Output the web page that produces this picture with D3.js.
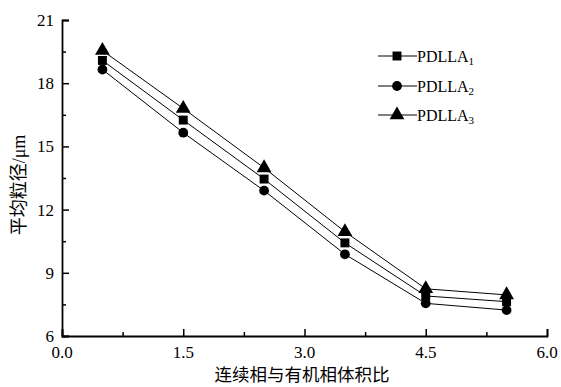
<!DOCTYPE html>
<html>
<head>
<meta charset="utf-8">
<script src="https://cdn.jsdelivr.net/npm/d3@7"></script>
<style>
  body { margin: 0; background: #fff; }
  svg { display: block; }
</style>
</head>
<body>
<svg id="chart" width="561" height="387"></svg>
<script>
// Données
const ratios = [0.5, 1.5, 2.5, 3.5, 4.5, 5.5];
const pdlla1 = [19.08, 16.25, 13.45, 10.42, 7.9, 7.63];
const pdlla2 = [18.65, 15.65, 12.9, 9.88, 7.55, 7.23];
const pdlla3 = [19.55, 16.8, 13.98, 10.95, 8.24, 7.95];
const seriesNames = ['PDLLA', 'PDLLA', 'PDLLA'];
const seriesSubs = ['1', '2', '3'];
const xTicks = [0, 1.5, 3.0, 4.5, 6.0];
const yTicks = [6, 9, 12, 15, 18, 21];

const svg = d3.select('#chart');
const mLeft = 62, mRight = 547, mTop = 20, mBottom = 336;

const x = d3.scaleLinear().domain([0, 6]).range([mLeft, mRight]);
const y = d3.scaleLinear().domain([6, 21]).range([mBottom, mTop]);

const serif = "'Liberation Serif'";
const cjk = "'Noto Sans CJK SC'";

// Axe X
const gx = svg.append('g').attr('transform', `translate(0,${mBottom})`);
gx.call(d3.axisBottom(x).tickValues(d3.range(0, 6.01, 0.75)).tickSize(-7).tickFormat(''));
gx.selectAll('.tick line').attr('y2', (d, i) => (i % 2 ? -4 : -7));
gx.select('.domain').attr('stroke-width', 1.8);
gx.selectAll('.tick line').attr('stroke-width', 1.5);

// Axe Y
const gy = svg.append('g').attr('transform', `translate(${mLeft},0)`);
gy.call(d3.axisLeft(y).tickValues(d3.range(6, 21.01, 1.5)).tickSize(-7).tickFormat(''));
gy.selectAll('.tick line').attr('x2', (d, i) => (i % 2 ? 4 : 7));
gy.select('.domain').attr('stroke-width', 1.8);
gy.selectAll('.tick line').attr('stroke-width', 1.5);

// Étiquettes des graduations (hors des groupes d'axes)
svg.selectAll('.xlbl').data(xTicks).enter().append('text')
  .attr('x', (d) => x(d)).attr('y', mBottom + 22)
  .attr('text-anchor', 'middle')
  .style('font-family', serif).style('font-size', '17px')
  .text((d) => d.toFixed(1));

svg.selectAll('.ylbl').data(yTicks).enter().append('text')
  .attr('x', mLeft - 8).attr('y', (d) => y(d) + 6)
  .attr('text-anchor', 'end')
  .style('font-family', serif).style('font-size', '17px')
  .text((d) => d);

// Titres des axes
svg.append('text')
  .attr('x', 302).attr('y', 381)
  .attr('text-anchor', 'middle')
  .style('font-family', cjk).style('font-size', '17.5px')
  .text('连续相与有机相体积比');

const yt = svg.append('text')
  .attr('transform', 'translate(25,185) rotate(-90)')
  .attr('text-anchor', 'middle')
  .style('font-family', cjk).style('font-size', '18px');
yt.append('tspan').text('平均粒径');
yt.append('tspan').style('font-family', serif).text('/μm');

// Symboles
const symbols = [d3.symbolSquare, d3.symbolCircle, d3.symbolTriangle];
const symSizes = [80, 75, 95];
const allSeries = [pdlla1, pdlla2, pdlla3];

const line = d3.line().x((d, i) => x(ratios[i])).y((d) => y(d));

allSeries.forEach((vals, k) => {
  svg.append('path')
    .attr('d', line(vals))
    .attr('fill', 'none')
    .attr('stroke', '#000')
    .attr('stroke-width', 1);

  svg.selectAll(`.m${k}`)
    .data(vals)
    .enter()
    .append('path')
    .attr('transform', (d, i) => `translate(${x(ratios[i])},${y(d)})`)
    .attr('d', d3.symbol().type(symbols[k]).size(symSizes[k]))
    .attr('fill', '#000');
});

// Légende
const legendY = [56, 86, 115];
seriesNames.forEach((name, k) => {
  const g = svg.append('g').attr('transform', `translate(0,${legendY[k]})`);
  g.append('line').attr('x1', 378).attr('x2', 417).attr('y1', 0).attr('y2', 0)
    .attr('stroke', '#000').attr('stroke-width', 1);
  g.append('path').attr('transform', 'translate(397,0)')
    .attr('d', d3.symbol().type(symbols[k]).size(symSizes[k]))
    .attr('fill', '#000');
  const t = g.append('text').attr('x', 417).attr('y', 6)
    .style('font-family', serif).style('font-size', '16px');
  t.append('tspan').text(name);
  t.append('tspan').style('font-size', '11px').attr('dy', 3).text(seriesSubs[k]);
});
</script>
</body>
</html>
